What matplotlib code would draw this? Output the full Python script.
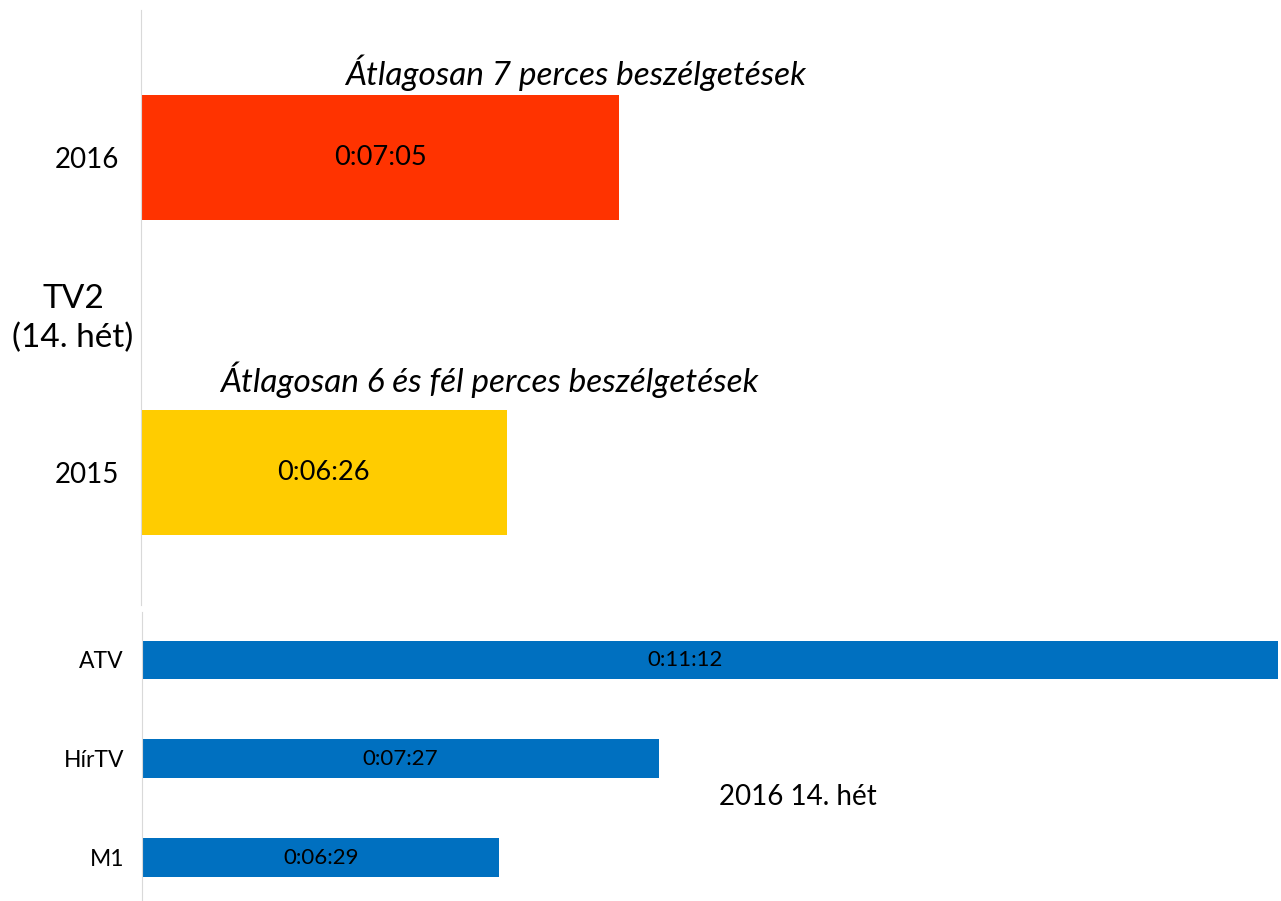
import matplotlib
matplotlib.use("Agg")
import matplotlib.pyplot as plt

# ---- data ----
tv2_years = ["2015", "2016"]
tv2_values = ["0:06:26", "0:07:05"]
tv2_colors = ["#FFCC00", "#FF3300"]
tv2_notes = ["Átlagosan 6 és fél perces beszélgetések", "Átlagosan 7 perces beszélgetések"]

channels = ["M1", "HírTV", "ATV"]
channel_values = ["0:06:29", "0:07:27", "0:11:12"]
channel_color = "#0070C0"


def to_sec(s):
    h, m, sec = (int(p) for p in s.split(":"))
    return h * 3600 + m * 60 + sec


W, H = 1281, 901
FONT = ["Lato", "DejaVu Sans"]
plt.rcParams["font.family"] = FONT

fig = plt.figure(figsize=(W / 100, H / 100), dpi=100)


def px_axes(x0, y0, x1, y1):
    return fig.add_axes([x0 / W, 1 - y1 / H, (x1 - x0) / W, (y1 - y0) / H])


XMIN = 259.2  # Excel axis minimum (0.003 day)

# ---- top panel ----
ax1 = px_axes(141, 10, 1281, 605)
t_vals = [to_sec(v) for v in tv2_values]
ypos = list(range(len(tv2_years)))
ax1.barh(ypos, [v - XMIN for v in t_vals], left=XMIN, height=0.397,
         color=tv2_colors)
ax1.set_xlim(XMIN, XMIN + 1140 / 2.883)
ax1.set_ylim(-0.42, 1.47)
ax1.set_yticks(ypos)
ax1.set_yticklabels(tv2_years, fontsize=20)
ax1.tick_params(axis="y", length=0, pad=16)
ax1.set_xticks([])
for s in ["top", "right", "bottom"]:
    ax1.spines[s].set_visible(False)
ax1.spines["left"].set_color("#D9D9D9")
for y, v, lab in zip(ypos, t_vals, tv2_values):
    ax1.text((XMIN + v) / 2, y, lab, ha="center", va="center", fontsize=19.5,
             color="black")
fig.text(576 / W, 1 - 73 / H, tv2_notes[1], ha="center", va="center",
         fontsize=24, style="italic")
fig.text(489 / W, 1 - 380 / H, tv2_notes[0], ha="center", va="center",
         fontsize=24, style="italic")
fig.text(73 / W, 1 - 319 / H, "TV2\n(14. hét)", ha="center", va="center",
         fontsize=24, linespacing=1.35)

# ---- bottom panel ----
ax2 = px_axes(142, 612, 1281, 901)
c_vals = [to_sec(v) for v in channel_values]
cpos = list(range(len(channels)))
ax2.barh(cpos, [v - XMIN for v in c_vals], left=XMIN, height=0.39,
         color=channel_color)
xmax2 = XMIN + 1139 / 2.753
ax2.set_xlim(XMIN, xmax2)
ax2.set_ylim(-0.44, 2.485)
ax2.set_yticks(cpos)
ax2.set_yticklabels(channels, fontsize=16.5)
ax2.tick_params(axis="y", length=0, pad=13)
ax2.set_xticks([])
for s in ["top", "right", "bottom"]:
    ax2.spines[s].set_visible(False)
ax2.spines["left"].set_color("#D9D9D9")
for y, v, lab in zip(cpos, c_vals, channel_values):
    ax2.text((XMIN + min(v, xmax2)) / 2 - (9 if v > xmax2 - 5 else 0), y, lab,
             ha="center", va="center", fontsize=16, color="black")
fig.text(798 / W, 1 - 797 / H, "2016 14. hét", ha="center", va="center",
         fontsize=20)

fig.savefig("out.png", dpi=100)
